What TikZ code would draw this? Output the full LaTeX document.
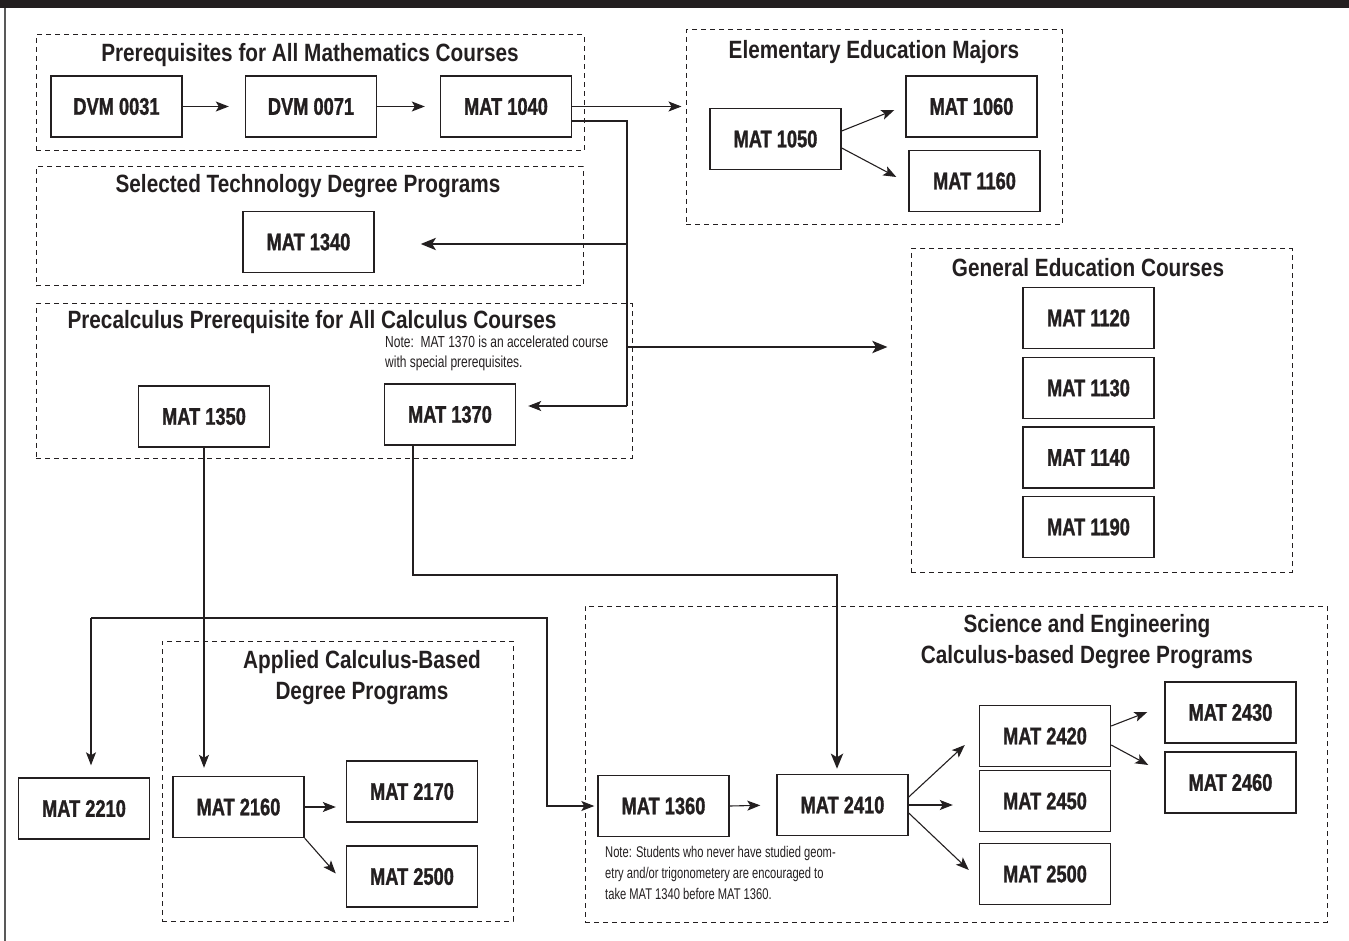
\documentclass[tikz,border=0pt]{standalone}
\usepackage{fontspec}
\setmainfont{Liberation Sans}[FakeStretch=0.78]
\newfontfamily\boxf{Liberation Sans}[FakeStretch=0.76,FakeBold=1.2]
\newfontfamily\titlef{Liberation Sans}[FakeStretch=0.83]
\newfontfamily\notef{Liberation Sans}[FakeStretch=0.72]
\newfontfamily\notepf{Liberation Sans}[FakeStretch=0.75]
\usetikzlibrary{arrows.meta,calc}
\definecolor{ink}{HTML}{231F20}
\begin{document}
\begin{tikzpicture}[x=1pt,y=-1pt,
  course/.style={draw=ink,line width=1.4pt,fill=white,minimum width=131pt,minimum height=61pt,inner sep=0pt,font=\boxf\bfseries\fontsize{24}{28}\selectfont,text=ink},
  group/.style={draw=ink,line width=1pt,dash pattern=on 5pt off 4pt,inner sep=0pt},
  gtitle/.style={font=\titlef\bfseries\fontsize{25}{31}\selectfont,text=ink,align=center,inner sep=0pt},
  note/.style={text=ink,align=left,anchor=north west,inner sep=0pt},
  conn/.style={draw=ink,line width=1.1pt},
  arr/.style={conn,-{Stealth[length=13pt,width=10pt,inset=3pt]}},
  tconn/.style={draw=ink,line width=2.8pt},
  tarr/.style={tconn,-{Stealth[length=15pt,width=12pt,inset=3.5pt]}},
]
\useasboundingbox (0,0) rectangle (1349,941);
\fill[ink] (0,0) rectangle (1349,8);
\draw[line width=2pt,black!65] (5,8) -- (5,941);

% groups
\node[group,minimum width=548pt,minimum height=116pt] (gPre) at (310,93) {};
\node[group,minimum width=376pt,minimum height=195pt] (gElem) at (874,127.5) {};
\node[group,minimum width=547pt,minimum height=119pt] (gTech) at (309.5,226.5) {};
\node[group,minimum width=596pt,minimum height=154pt] (gPrecalc) at (334,381) {};
\node[group,minimum width=381pt,minimum height=323pt] (gGen) at (1101.5,410.5) {};
\node[group,minimum width=351pt,minimum height=280pt] (gApp) at (337.5,781) {};
\node[group,minimum width=742pt,minimum height=316pt] (gSci) at (956,764) {};

% titles
\node[gtitle] (tPre) at (310,55) {Prerequisites for All Mathematics Courses};
\node[gtitle] (tElem) at (874,52) {Elementary Education Majors};
\node[gtitle] (tTech) at (308,186) {Selected Technology Degree Programs};
\node[gtitle] (tPrecalc) at (312,322) {Precalculus Prerequisite for All Calculus Courses};
\node[gtitle] (tGen) at (1088,268) {General Education Courses};
\node[gtitle] (tApp) at (362,677.5) {Applied Calculus-Based\\Degree Programs};
\node[gtitle] (tSci) at (1087,641.5) {Science and Engineering\\Calculus-based Degree Programs};

% courses
\node[course] (DVM0031) at (116.5,106.5) {DVM 0031};
\node[course] (DVM0071) at (311,106.5) {DVM 0071};
\node[course] (MAT1040) at (506,106.5) {MAT 1040};
\node[course] (MAT1050) at (775.5,139) {MAT 1050};
\node[course] (MAT1060) at (971.5,106.5) {MAT 1060};
\node[course] (MAT1160) at (974.5,181) {MAT 1160};
\node[course] (MAT1340) at (308.5,242) {MAT 1340};
\node[course] (MAT1350) at (204,416.5) {MAT 1350};
\node[course] (MAT1370) at (450,414.5) {MAT 1370};
\node[course] (MAT1120) at (1088.5,318) {MAT 1120};
\node[course] (MAT1130) at (1088.5,388) {MAT 1130};
\node[course] (MAT1140) at (1088.5,457.5) {MAT 1140};
\node[course] (MAT1190) at (1088.5,527) {MAT 1190};
\node[course] (MAT2210) at (84,808.5) {MAT 2210};
\node[course] (MAT2160) at (238.5,807) {MAT 2160};
\node[course] (MAT2170) at (412,791.5) {MAT 2170};
\node[course] (MAT2500a) at (412,876.5) {MAT 2500};
\node[course] (MAT1360) at (663.5,806) {MAT 1360};
\node[course] (MAT2410) at (842.5,805) {MAT 2410};
\node[course] (MAT2420) at (1045,736) {MAT 2420};
\node[course] (MAT2450) at (1045,801) {MAT 2450};
\node[course] (MAT2500b) at (1045,874) {MAT 2500};
\node[course] (MAT2430) at (1230.5,712.5) {MAT 2430};
\node[course] (MAT2460) at (1230.5,782.5) {MAT 2460};

% notes
\node[note,font=\notepf\fontsize{16}{20}\selectfont] (nPrecalc) at (385,336) {Note:\ \ MAT 1370 is an accelerated course\\with special prerequisites.};
\node[note,font=\notef\fontsize{15.5}{21}\selectfont] (nSci) at (605,846) {Note: Students who never have studied geom-\\etry and/or trigonometery are encouraged to\\take MAT 1340 before MAT 1360.};

% junction coordinates
\coordinate (j1) at (627,121);
\coordinate (j2) at (627,406);
\coordinate (j3) at (627,244);
\coordinate (j4) at (627,347);
\coordinate (k1) at (413,575);
\coordinate (k2) at (837,575);
\coordinate (m1) at (91,618);
\coordinate (m2) at (547,618);

% connectors
\draw[arr,shorten >=16pt] (DVM0031.east) -- (DVM0071.west);
\draw[arr,shorten >=15pt] (DVM0071.east) -- (MAT1040.west);
\draw[arr,shorten >=4pt] (MAT1040.east) -- (gElem.west |- MAT1040.east);
\draw[conn] (MAT1040.east |- j1) -- (j1) -- (j2);
\draw[arr,shorten >=12pt] (j2) -- (MAT1370.east |- j2);
\draw[tarr,shorten >=46pt] (j3) -- (MAT1340.east |- j3);
\draw[tarr,shorten >=23pt] (j4) -- (gGen.west |- j4);

\draw[arr] ($(MAT1050.east)+(0,-8)$) -- ($(MAT1060.west)+(-11,3.5)$);
\draw[arr] ($(MAT1050.east)+(0,9)$) -- ($(MAT1160.west)+(-12,-4)$);

\draw[tarr,shorten >=5pt] (MAT1370.south -| k1) -- (k1) -- (k2) -- (k2 |- MAT2410.north);
\draw[arr,shorten >=8pt] (MAT1350.south) -- (MAT1350.south |- MAT2160.north);
\draw[arr,shorten >=12pt] (m1) -- (m1 |- MAT2210.north);
\draw[arr,shorten >=3pt] (m1) -- (m2) -- (m2 |- MAT1360.west) -- (MAT1360.west);

\draw[arr,shorten >=10pt] (MAT2160.east) -- (MAT2170.west |- MAT2160.east);
\draw[arr] (MAT2160.south east) -- ($(MAT2500a.west)+(-10,-3)$);

\draw[arr,shorten >=16pt] (MAT1360.east) -- (MAT2410.west);
\draw[arr] ($(MAT2410.east)+(0,-8)$) -- ($(MAT2420.west)+(-14,9)$);
\draw[arr,shorten >=26pt] (MAT2410.east) -- (MAT2450.west |- MAT2410.east);
\draw[arr] ($(MAT2410.east)+(0,8)$) -- ($(MAT2500b.west)+(-10,-4)$);
\draw[arr] ($(MAT2420.east)+(0,-10)$) -- ($(MAT2430.west)+(-17,-0.5)$);
\draw[arr] ($(MAT2420.east)+(0,9)$) -- ($(MAT2460.west)+(-16,-17.5)$);
\end{tikzpicture}
\end{document}
